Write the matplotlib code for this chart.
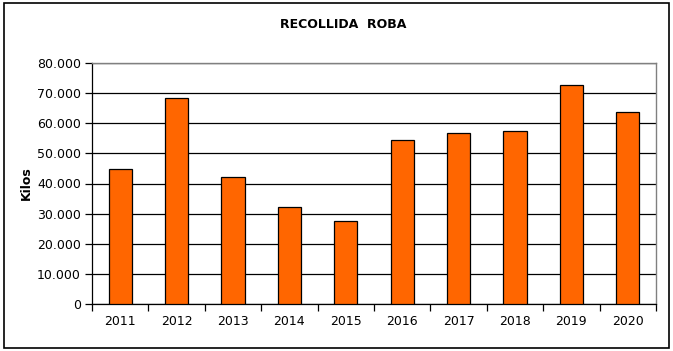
import matplotlib
matplotlib.use("Agg")
import matplotlib.pyplot as plt
from matplotlib.patches import Rectangle
import numpy as np

years = ["2011", "2012", "2013", "2014", "2015", "2016", "2017", "2018", "2019", "2020"]
kilos = [44800, 68300, 42100, 32100, 27500, 54400, 56700, 57400, 72800, 63700]
yticks = [0, 10000, 20000, 30000, 40000, 50000, 60000, 70000, 80000]
ytick_labels = ["0", "10.000", "20.000", "30.000", "40.000", "50.000", "60.000", "70.000", "80.000"]

W, H = 673, 351
fig = plt.figure(figsize=(W / 100, H / 100), dpi=100)
fig.patch.set_facecolor("white")
fig.patches.append(Rectangle((4 / W, 3 / H), 665 / W, 345 / H, transform=fig.transFigure,
                             fill=False, edgecolor="black", linewidth=1.2))

left, right, top, bottom = 92, 656, 63, 304
ax = fig.add_axes([left / W, 1 - bottom / H, (right - left) / W, (bottom - top) / H])

x = np.arange(len(years))
ax.bar(x, kilos, width=0.41, color="#FF6600", edgecolor="black", linewidth=0.9, zorder=3)
ax.set_xlim(-0.5, len(years) - 0.5)
ax.set_ylim(0, 80000)
ax.set_yticks(yticks)
ax.set_yticklabels(ytick_labels, fontsize=9)
ax.yaxis.grid(True, color="black", linewidth=0.9, zorder=0)
ax.set_axisbelow(True)

ax.set_xticks(x)
ax.set_xticklabels(years, fontsize=9)
ax.tick_params(axis="x", which="major", length=0, pad=8)
ax.set_xticks(np.arange(-0.5, len(years), 1.0), minor=True)
ax.tick_params(axis="x", which="minor", length=5, width=0.9, direction="out")
ax.tick_params(axis="y", length=5, width=0.9, direction="out", pad=3)

for s in ["left", "bottom"]:
    ax.spines[s].set_color("black")
    ax.spines[s].set_linewidth(0.9)
for s in ["top", "right"]:
    ax.spines[s].set_color("#808080")
    ax.spines[s].set_linewidth(1.0)

ax.set_ylabel("Kilos", fontsize=9, fontweight="bold", labelpad=3)
fig.text(343 / W, 1 - 25 / H, "RECOLLIDA  ROBA", ha="center", va="center",
         fontsize=9, fontweight="bold")

fig.savefig("out.png", dpi=100)
